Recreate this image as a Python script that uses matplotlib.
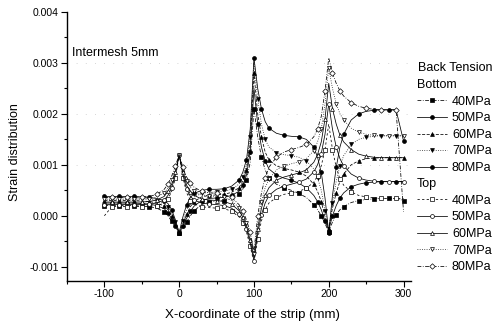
import numpy as np
import matplotlib
matplotlib.use('Agg')
import matplotlib.pyplot as plt
from matplotlib.ticker import MultipleLocator, FormatStrFormatter

# X positions along the strip (mm)
x_mm = [-100, -90, -80, -70, -60, -50, -40, -30, -20, -15, -10, -5, 0,
        5, 10, 15, 20, 30, 40, 50, 60, 70, 80, 85, 90, 95, 100,
        105, 110, 115, 120, 130, 140, 150, 160, 170, 180, 185, 190, 195, 200,
        205, 210, 215, 220, 230, 240, 250, 260, 270, 280, 290, 300]

# Strain values (x1e-3)
bottom_40 = [0.20, 0.20, 0.20, 0.20, 0.20, 0.19, 0.18, 0.15, 0.08, 0.00, -0.11, -0.23, -0.33,
             -0.25, -0.12, 0.00, 0.10, 0.22, 0.27, 0.29, 0.30, 0.34, 0.42, 0.52, 0.70, 1.05, 2.10,
             1.55, 1.15, 0.90, 0.75, 0.62, 0.55, 0.50, 0.44, 0.36, 0.22, 0.12, 0.00, -0.15, -0.32,
             -0.12, 0.02, 0.12, 0.18, 0.26, 0.30, 0.32, 0.33, 0.34, 0.34, 0.34, 0.30]
bottom_50 = [0.25, 0.25, 0.25, 0.25, 0.25, 0.24, 0.23, 0.20, 0.14, 0.06, -0.06, -0.20, -0.33,
             -0.21, -0.05, 0.09, 0.19, 0.30, 0.34, 0.35, 0.36, 0.40, 0.48, 0.60, 0.80, 1.25, 2.50,
             1.80, 1.35, 1.08, 0.92, 0.80, 0.74, 0.70, 0.64, 0.55, 0.40, 0.28, 0.12, -0.10, -0.28,
             0.00, 0.20, 0.35, 0.45, 0.57, 0.62, 0.65, 0.66, 0.67, 0.67, 0.67, 0.67]
bottom_60 = [0.30, 0.30, 0.30, 0.30, 0.30, 0.29, 0.28, 0.25, 0.19, 0.12, 0.00, -0.16, -0.33,
             -0.16, 0.03, 0.18, 0.28, 0.37, 0.40, 0.41, 0.42, 0.46, 0.55, 0.68, 0.90, 1.40, 2.80,
             2.00, 1.55, 1.25, 1.10, 0.98, 0.93, 0.90, 0.86, 0.78, 0.62, 0.48, 0.28, -0.02, -0.25,
             0.15, 0.45, 0.68, 0.82, 1.00, 1.08, 1.12, 1.13, 1.14, 1.14, 1.14, 1.14]
bottom_70 = [0.35, 0.35, 0.35, 0.35, 0.34, 0.34, 0.33, 0.30, 0.25, 0.18, 0.05, -0.12, -0.33,
             -0.10, 0.12, 0.28, 0.37, 0.44, 0.46, 0.47, 0.48, 0.52, 0.62, 0.76, 1.00, 1.55, 3.00,
             2.30, 1.80, 1.50, 1.35, 1.24, 1.20, 1.18, 1.15, 1.08, 0.92, 0.75, 0.50, 0.10, -0.30,
             0.25, 0.68, 0.98, 1.18, 1.40, 1.50, 1.54, 1.56, 1.57, 1.57, 1.57, 1.57]
bottom_80 = [0.38, 0.38, 0.38, 0.38, 0.38, 0.37, 0.36, 0.34, 0.30, 0.24, 0.12, -0.08, -0.33,
             -0.02, 0.22, 0.36, 0.44, 0.50, 0.52, 0.52, 0.53, 0.58, 0.70, 0.85, 1.10, 1.70, 3.10,
             2.50, 2.10, 1.85, 1.72, 1.62, 1.58, 1.56, 1.55, 1.50, 1.35, 1.15, 0.85, 0.35, -0.33,
             0.40, 0.95, 1.35, 1.60, 1.88, 2.00, 2.05, 2.07, 2.08, 2.08, 2.08, 1.47]

top_40 = [0.00, 0.18, 0.18, 0.18, 0.18, 0.18, 0.19, 0.20, 0.25, 0.33, 0.48, 0.74, 1.20,
          0.75, 0.45, 0.30, 0.23, 0.18, 0.16, 0.15, 0.14, 0.09, -0.02, -0.14, -0.32, -0.60, -0.92,
          -0.45, -0.10, 0.12, 0.25, 0.36, 0.42, 0.45, 0.48, 0.54, 0.66, 0.78, 0.98, 1.30, 1.80,
          1.30, 0.95, 0.72, 0.60, 0.47, 0.40, 0.37, 0.35, 0.34, 0.34, 0.34, 0.34]
top_50 = [0.22, 0.22, 0.22, 0.22, 0.22, 0.22, 0.23, 0.25, 0.31, 0.40, 0.55, 0.80, 1.20,
          0.80, 0.52, 0.38, 0.31, 0.25, 0.23, 0.22, 0.20, 0.15, 0.03, -0.08, -0.26, -0.54, -0.88,
          -0.35, 0.02, 0.25, 0.40, 0.52, 0.58, 0.62, 0.66, 0.72, 0.86, 1.00, 1.22, 1.60, 2.20,
          1.70, 1.35, 1.12, 0.98, 0.82, 0.74, 0.70, 0.68, 0.67, 0.67, 0.67, 0.67]
top_60 = [0.27, 0.27, 0.27, 0.27, 0.27, 0.27, 0.28, 0.31, 0.38, 0.48, 0.62, 0.86, 1.20,
          0.85, 0.60, 0.47, 0.40, 0.33, 0.31, 0.30, 0.28, 0.23, 0.10, -0.02, -0.20, -0.48, -0.82,
          -0.25, 0.15, 0.40, 0.55, 0.70, 0.76, 0.80, 0.84, 0.90, 1.05, 1.20, 1.45, 1.90, 2.60,
          2.10, 1.80, 1.58, 1.45, 1.30, 1.21, 1.17, 1.15, 1.14, 1.14, 1.14, 1.14]
top_70 = [0.32, 0.32, 0.32, 0.32, 0.32, 0.32, 0.33, 0.37, 0.45, 0.55, 0.70, 0.92, 1.20,
          0.90, 0.68, 0.56, 0.48, 0.41, 0.39, 0.38, 0.36, 0.30, 0.16, 0.04, -0.14, -0.40, -0.75,
          -0.15, 0.28, 0.55, 0.72, 0.90, 0.98, 1.02, 1.06, 1.12, 1.28, 1.45, 1.70, 2.20, 2.90,
          2.50, 2.20, 2.00, 1.88, 1.72, 1.64, 1.60, 1.58, 1.57, 1.57, 1.57, 1.57]
top_80 = [0.36, 0.36, 0.36, 0.36, 0.36, 0.37, 0.38, 0.42, 0.52, 0.62, 0.78, 0.98, 1.20,
          0.95, 0.76, 0.64, 0.56, 0.48, 0.45, 0.44, 0.42, 0.36, 0.22, 0.10, -0.08, -0.32, -0.70,
          0.00, 0.45, 0.75, 0.95, 1.15, 1.25, 1.30, 1.34, 1.40, 1.55, 1.70, 1.95, 2.45, 3.10,
          2.80, 2.60, 2.45, 2.35, 2.22, 2.15, 2.11, 2.09, 2.08, 2.08, 2.08, 0.08]

tension_labels = ['40MPa', '50MPa', '60MPa', '70MPa', '80MPa']
x_ticks = [-100, 0, 100, 200, 300]
y_ticks = [-0.001, 0.000, 0.001, 0.002, 0.003, 0.004]

plt.rcParams['font.family'] = ['Liberation Sans', 'DejaVu Sans']
plt.rcParams['axes.unicode_minus'] = False

fig = plt.figure(figsize=(5, 3.27), dpi=100)
ax = fig.add_axes([67 / 500, 46 / 327, 344 / 500, 269 / 327])

x = np.array(x_mm, dtype=float)
bottom = [bottom_40, bottom_50, bottom_60, bottom_70, bottom_80]
top = [top_40, top_50, top_60, top_70, top_80]

b_styles = [((0, (5, 2, 1, 2)), 's'), ('-', 'o'), ((0, (4, 2)), '^'), ((0, (1, 2)), 'v'), ('-', 'o')]
t_styles = [((0, (3, 3)), 's'), ('-', 'o'), ('-', '^'), ((0, (1, 2)), 'v'), ((0, (5, 2, 1, 2)), 'D')]

# light dotted reference lines
for yv in [0.001, 0.002, 0.003]:
    ax.axhline(yv, color='#c8c8c8', lw=0.6, ls=(0, (1, 10)), zorder=0)

b_handles = []
for i, (vals, (ls, mk), lab) in enumerate(zip(bottom, b_styles, tension_labels)):
    h, = ax.plot(x, np.array(vals) * 1e-3, color='black', lw=0.55, ls=ls,
                 marker=mk, ms=2.8, mfc='black', mec='black', mew=0.5,
                 markevery=(i % 2, 2), label=lab)
    b_handles.append(h)
t_handles = []
for i, (vals, (ls, mk), lab) in enumerate(zip(top, t_styles, tension_labels)):
    h, = ax.plot(x, np.array(vals) * 1e-3, color='black', lw=0.55, ls=ls,
                 marker=mk, ms=2.8, mfc='white', mec='black', mew=0.5,
                 markevery=((i + 1) % 2, 2), label=lab)
    t_handles.append(h)

ax.set_xlim(-150, 310)
ax.set_ylim(-0.00128, 0.004)
ax.set_xticks(x_ticks)
ax.set_yticks(y_ticks)
ax.xaxis.set_minor_locator(MultipleLocator(50))
ax.yaxis.set_minor_locator(MultipleLocator(0.0005))
ax.yaxis.set_major_formatter(FormatStrFormatter('%.3f'))
ax.tick_params(which='major', direction='out', length=4, width=0.8, labelsize=7.5, pad=2)
ax.tick_params(which='minor', direction='out', length=2, width=0.8)
for s in ['top', 'right']:
    ax.spines[s].set_visible(False)
for s in ['left', 'bottom']:
    ax.spines[s].set_linewidth(1.0)

ax.set_xlabel('X-coordinate of the strip (mm)', fontsize=9.5)
ax.xaxis.set_label_coords(0.538, -0.105)
ax.set_ylabel('Strain distribution', fontsize=9)
ax.yaxis.set_label_coords(-0.135, 0.48)

ax.text(0.015, 0.848, 'Intermesh 5mm', transform=ax.transAxes, fontsize=9, va='center', ha='left')

fig.text(418 / 500, 1 - 68 / 327, 'Back Tension', fontsize=9, ha='left', va='center')
leg1 = fig.legend(handles=b_handles, labels=tension_labels, title='Bottom',
                  alignment='left', loc='upper left', bbox_to_anchor=(0.834, 1 - 79 / 327),
                  frameon=False, fontsize=9, title_fontsize=9, handlelength=2.4,
                  handletextpad=0.4, labelspacing=0.37, borderpad=0, borderaxespad=0)
leg2 = fig.legend(handles=t_handles, labels=tension_labels, title='Top',
                  alignment='left', loc='upper left', bbox_to_anchor=(0.834, 1 - 178 / 327),
                  frameon=False, fontsize=9, title_fontsize=9, handlelength=2.4,
                  handletextpad=0.4, labelspacing=0.37, borderpad=0, borderaxespad=0)

fig.savefig('out.png', dpi=100)
